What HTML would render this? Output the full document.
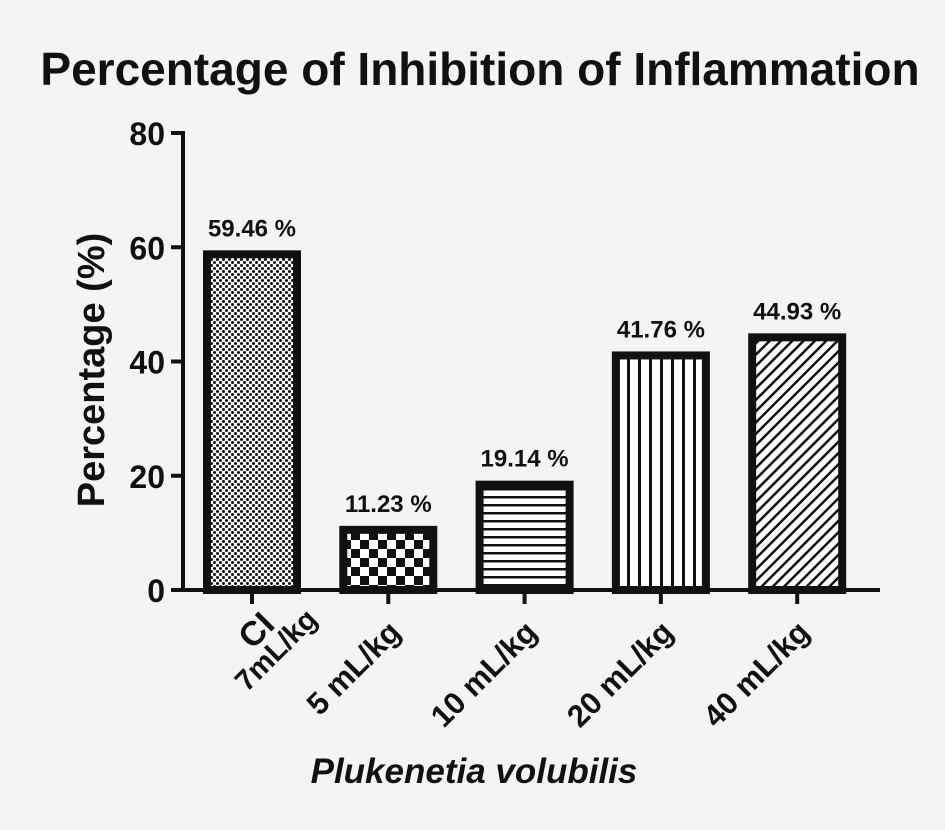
<!DOCTYPE html>
<html><head><meta charset="utf-8"><style>
html,body{margin:0;padding:0;background:#f4f4f4;}
svg{display:block;font-family:"Liberation Sans",Arial,sans-serif;}
</style></head><body>
<svg id="chart" width="945" height="830" viewBox="0 0 945 830">
<defs>
<pattern id="p0" width="6" height="6" patternUnits="userSpaceOnUse"><rect width="6" height="6" fill="#fff"/><circle cx="1.5" cy="1.5" r="1.5" fill="#111"/><circle cx="4.5" cy="4.5" r="1.5" fill="#111"/></pattern>
<pattern id="p1" width="18" height="18" patternUnits="userSpaceOnUse"><rect width="18" height="18" fill="#fff"/><rect width="9" height="9" fill="#111"/><rect x="9" y="9" width="9" height="9" fill="#111"/></pattern>
<pattern id="p2" width="8" height="8" patternUnits="userSpaceOnUse"><rect width="8" height="8" fill="#fff"/><rect y="0" width="8" height="2.5" fill="#111"/></pattern>
<pattern id="p3" width="11" height="11" patternUnits="userSpaceOnUse"><rect width="11" height="11" fill="#fff"/><rect width="3" height="11" fill="#111"/></pattern>
<pattern id="p4" width="8" height="8" patternUnits="userSpaceOnUse" patternTransform="rotate(45)"><rect width="8" height="8" fill="#fff"/><rect width="2.5" height="8" fill="#111"/></pattern>
</defs>
<text x="480" y="85" text-anchor="middle" font-size="46" font-weight="bold" fill="#111">Percentage of Inhibition of Inflammation</text>
<text transform="translate(104,370) rotate(-90)" text-anchor="middle" font-size="38" font-weight="bold" fill="#111">Percentage (%)</text>
<text x="474" y="783" text-anchor="middle" font-size="35" font-weight="bold" font-style="italic" fill="#111">Plukenetia volubilis</text>
<g id="axes"></g>
<g id="bars"></g>
</svg>
<script>
const categories = ["CI|7mL/kg", "5 mL/kg", "10 mL/kg", "20 mL/kg", "40 mL/kg"];
const values = [59.46, 11.23, 19.14, 41.76, 44.93];
const valueLabels = ["59.46 %", "11.23 %", "19.14 %", "41.76 %", "44.93 %"];
const yTicks = [0, 20, 40, 60, 80];
const NS = "http://www.w3.org/2000/svg";
const y0 = 590, y1 = 133, yMax = 80;
function yScale(v){ return y0 - (v / yMax) * (y0 - y1); }
function xCenter(i){ return 252 + i * 136.3; }
const barW = 90;
function mk(tag, attrs, parent){ const e = document.createElementNS(NS, tag); for (const k in attrs) e.setAttribute(k, attrs[k]); parent.appendChild(e); return e; }
const axes = document.getElementById('axes');
const bars = document.getElementById('bars');
const yAxis = mk('line', {x1:183, y1:y1-2, x2:183, y2:y0+2, stroke:'#111', 'stroke-width':4}, axes);


const xAxis = mk('line', {x1:181, y1:y0, x2:880, y2:y0, stroke:'#111', 'stroke-width':4}, axes);


yTicks.forEach(t => {
  const y = yScale(t);
  const tk = mk('line', {x1:171, y1:y, x2:183, y2:y, stroke:'#111', 'stroke-width':4}, axes);
  
  
  const lb = mk('text', {x:165, y:y+12, 'text-anchor':'end', 'font-size':32, 'font-weight':'bold', fill:'#111'}, axes);
  lb.textContent = t;
  
  
});
values.forEach((v, i) => {
  const cx = xCenter(i), top = yScale(v);
  const r = mk('rect', {x:cx-barW/2, y:top+4, width:barW, height:y0-top-4, fill:'url(#p'+i+')', stroke:'#111', 'stroke-width':8}, bars);
  
  
  const vl = mk('text', {x:cx, y:top-14, 'text-anchor':'middle', 'font-size':24, 'font-weight':'bold', fill:'#111'}, bars);
  vl.textContent = valueLabels[i];
  
  
  const tk = mk('line', {x1:cx, y1:y0, x2:cx, y2:y0+14, stroke:'#111', 'stroke-width':4}, axes);
  
  
  const lines = categories[i].split('|');
  if (lines.length === 1) {
    const g = mk('g', {transform:'translate(' + (cx+14) + ',' + (y0+44) + ') rotate(-45)'}, axes);
    
    
    const t = mk('text', {x:0, y:0, 'text-anchor':'end', 'font-size':31, 'font-weight':'bold', fill:'#111'}, g);
    t.textContent = lines[0];
  } else {
    const g = mk('g', {transform:'translate(' + (cx+28) + ',' + (y0+64) + ') rotate(-45)'}, axes);
    
    
    lines.forEach((ln, j) => {
      const t = mk('text', {x:0, y:(j - (lines.length-1)) * 26 + 4, 'text-anchor':'middle', 'font-size':j===0?34:29, 'font-weight':'bold', fill:'#111'}, g);
      t.textContent = ln;
    });
  }
});
</script>
</body></html>
